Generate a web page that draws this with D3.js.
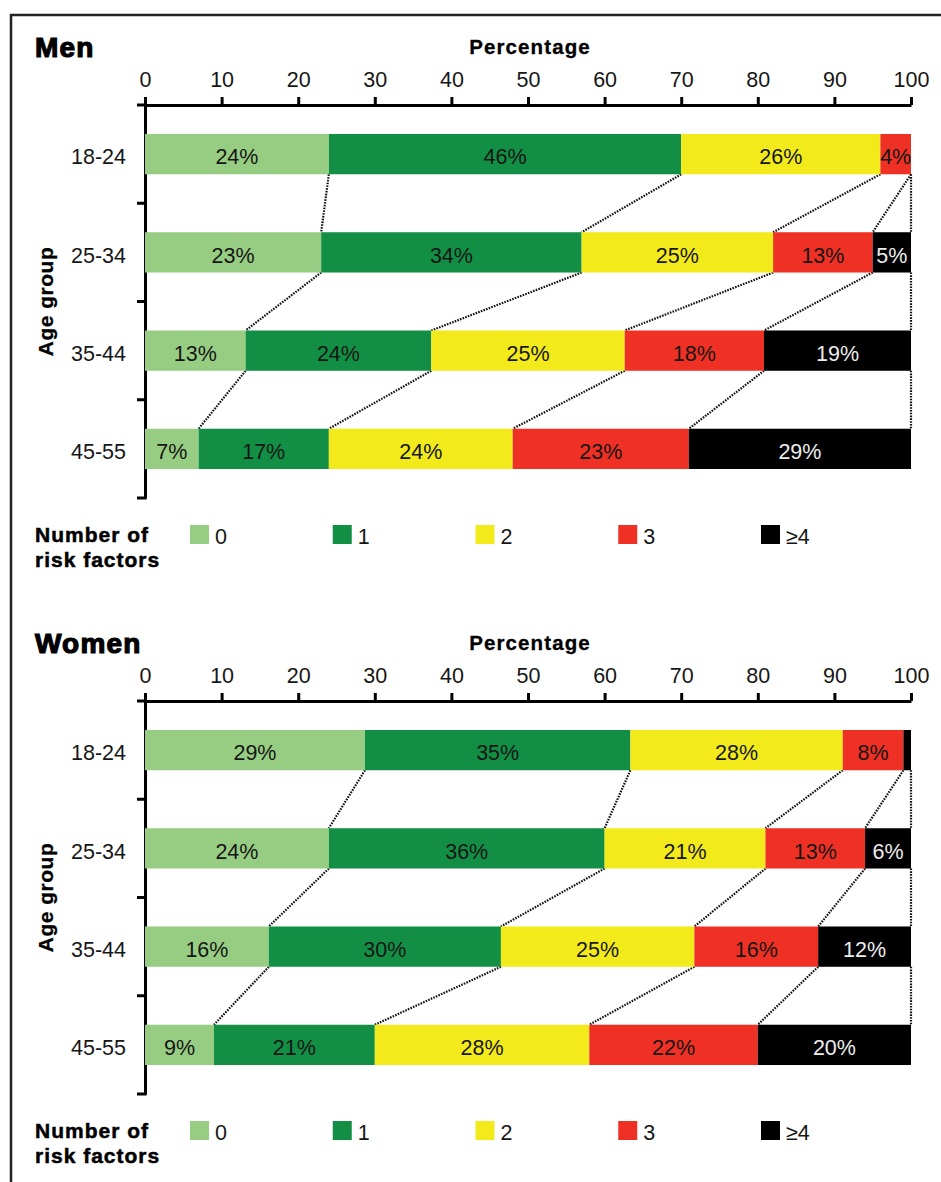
<!DOCTYPE html>
<html>
<head>
<meta charset="utf-8">
<script src="https://cdn.jsdelivr.net/npm/d3@7/dist/d3.min.js"></script>
<style>
  html, body { margin: 0; padding: 0; background: #fff; }
  svg { display: block; }
  text { font-family: "Liberation Sans", Arial, sans-serif; fill: #161616; }
</style>
</head>
<body>
<svg id="chart" width="941" height="1182"></svg>
<script>
// Age groups (rows) and risk-factor counts (stack segments)
const ageGroups = ["18-24", "25-34", "35-44", "45-55"];
const riskLevels = ["0", "1", "2", "3", "≥4"];

// Share of each age group by number of risk factors (%), one row per age group
const menShares = [
  [24, 46, 26, 4, 0],
  [23, 34, 25, 13, 5],
  [13, 24, 25, 18, 19],
  [7, 17, 24, 23, 29]
];
const womenShares = [
  [29, 35, 28, 8, 1],
  [24, 36, 21, 13, 6],
  [16, 30, 25, 16, 12],
  [9, 21, 28, 22, 20]
];

const percentTicks = [0, 10, 20, 30, 40, 50, 60, 70, 80, 90, 100];
const riskColors = ["#97cd82", "#128f45", "#f3ea1b", "#ee3124", "#000000"];

const panels = [
  { title: "Men", shares: menShares, offset: 0 },
  { title: "Women", shares: womenShares, offset: 596 }
];

const svg = d3.select("#chart");
const baseSize = 21.5;

// outer frame
svg.append("rect")
  .attr("x", 11).attr("y", 15)
  .attr("width", 1000).attr("height", 1300)
  .attr("fill", "none").attr("stroke", "#222").attr("stroke-width", 2.5);

const x = d3.scaleLinear().domain([0, 100]).range([145, 911]);
const y = d3.scaleBand().domain(ageGroups).range([105, 498])
  .paddingInner(0.59).paddingOuter(0.295);
const color = d3.scaleOrdinal().domain(riskLevels).range(riskColors);
const legendX = d3.scaleLinear().domain([0, riskLevels.length - 1]).range([190, 761]);

const stack = d3.stack().keys(riskLevels).offset(d3.stackOffsetExpand);

panels.forEach(panel => {
  const g = svg.append("g").attr("transform", `translate(0,${panel.offset})`);

  const table = ageGroups.map((age, i) => {
    const row = { age };
    riskLevels.forEach((k, j) => { row[k] = panel.shares[i][j]; });
    return row;
  });
  const series = stack(table);

  // panel title
  g.append("text")
    .attr("x", 35).attr("y", 57)
    .attr("font-size", 28).attr("font-weight", "bold")
    .attr("letter-spacing", 1.2)
    .style("fill", "#000").attr("stroke", "#000").attr("stroke-width", 1.2)
    .text(panel.title);

  // x axis title
  g.append("text")
    .attr("x", (x.range()[0] + x.range()[1]) / 2 + 2).attr("y", 54)
    .attr("text-anchor", "middle")
    .attr("font-size", 20.5).attr("font-weight", "bold").attr("letter-spacing", 1.1)
    .style("fill", "#000").attr("stroke", "#000").attr("stroke-width", 0.3)
    .text("Percentage");

  // top percentage axis
  const xAxis = g.append("g")
    .attr("transform", `translate(0,${y.range()[0]})`)
    .call(d3.axisTop(x).tickValues(percentTicks).tickSize(8).tickPadding(10).tickSizeOuter(0));
  xAxis.select(".domain").attr("stroke", "#000").attr("stroke-width", 3);
  xAxis.selectAll(".tick line").attr("stroke", "#000").attr("stroke-width", 3);
  xAxis.selectAll(".tick text")
    .attr("font-size", baseSize).attr("font-family", "Liberation Sans, Arial, sans-serif")
    .style("fill", "#161616");

  // age group axis
  const yAxis = g.append("g")
    .attr("transform", `translate(${x(0)},0)`)
    .call(d3.axisLeft(y).tickSize(0).tickPadding(19));
  yAxis.select(".domain").attr("stroke", "#000").attr("stroke-width", 3);
  yAxis.selectAll(".tick text")
    .attr("font-size", baseSize).attr("font-family", "Liberation Sans, Arial, sans-serif")
    .attr("dy", "0.48em").style("fill", "#161616");
  // boundary ticks between age bands
  const bounds = d3.range(ageGroups.length + 1).map(i => y.range()[0] + i * y.step());
  yAxis.selectAll(".bound")
    .data(bounds).join("line")
    .attr("x1", -8).attr("x2", 1.5)
    .attr("y1", d => d).attr("y2", d => d)
    .attr("stroke", "#000").attr("stroke-width", 3);

  g.append("text")
    .attr("transform", `translate(53,${(y.range()[0] + y.range()[1]) / 2}) rotate(-90)`)
    .attr("text-anchor", "middle")
    .attr("font-size", 21).attr("font-weight", "bold").attr("letter-spacing", 0.5)
    .style("fill", "#000").attr("stroke", "#000").attr("stroke-width", 0.3)
    .text("Age group");

  // dotted connectors between matching segment ends of adjacent bars
  const connectors = [];
  series.forEach(s => {
    for (let i = 0; i < ageGroups.length - 1; i++) {
      connectors.push({ from: s[i][1], to: s[i + 1][1], i });
    }
  });
  g.append("g").selectAll("line")
    .data(connectors).join("line")
    .attr("x1", d => x(d.from * 100))
    .attr("y1", d => y(ageGroups[d.i]) + y.bandwidth())
    .attr("x2", d => x(d.to * 100))
    .attr("y2", d => y(ageGroups[d.i + 1]))
    .attr("stroke", "#111").attr("stroke-width", 2.2)
    .attr("stroke-dasharray", "1.6,1.2");

  // stacked segments
  const layers = g.append("g").selectAll("g")
    .data(series).join("g")
    .attr("fill", d => color(d.key));
  layers.selectAll("rect")
    .data(d => d.map(v => ({ v, key: d.key })))
    .join("rect")
    .attr("x", d => x(d.v[0] * 100))
    .attr("y", d => y(d.v.data.age))
    .attr("width", d => x(d.v[1] * 100) - x(d.v[0] * 100))
    .attr("height", y.bandwidth());

  // value labels
  const labels = [];
  series.forEach(s => {
    s.forEach(v => {
      const val = v.data[s.key];
      const w = x(v[1] * 100) - x(v[0] * 100);
      if (val > 0 && w > 20) labels.push({ v, key: s.key, val });
    });
  });
  g.append("g").selectAll("text")
    .data(labels).join("text")
    .attr("x", d => (x(d.v[0] * 100) + x(d.v[1] * 100)) / 2)
    .attr("y", d => y(d.v.data.age) + y.bandwidth() / 2)
    .attr("dy", "0.48em")
    .attr("text-anchor", "middle")
    .attr("font-size", baseSize)
    .style("fill", d => d.key === "≥4" ? "#ededed" : "#161616")
    .text(d => d.val + "%");

  // legend
  const lg = g.append("g");
  lg.append("text")
    .attr("x", 35).attr("y", 542)
    .attr("font-size", 21).attr("font-weight", "bold").attr("letter-spacing", 1)
    .style("fill", "#000").attr("stroke", "#000").attr("stroke-width", 0.5)
    .text("Number of");
  lg.append("text")
    .attr("x", 35).attr("y", 567)
    .attr("font-size", 21).attr("font-weight", "bold").attr("letter-spacing", 1)
    .style("fill", "#000").attr("stroke", "#000").attr("stroke-width", 0.5)
    .text("risk factors");
  const items = lg.selectAll(".item")
    .data(riskLevels).join("g")
    .attr("transform", (d, i) => `translate(${legendX(i)},525)`);
  items.append("rect")
    .attr("width", 19).attr("height", 19)
    .attr("fill", d => color(d));
  items.append("text")
    .attr("x", 25).attr("y", 19)
    .attr("font-size", baseSize)
    .text(d => d);
});
</script>
</body>
</html>
